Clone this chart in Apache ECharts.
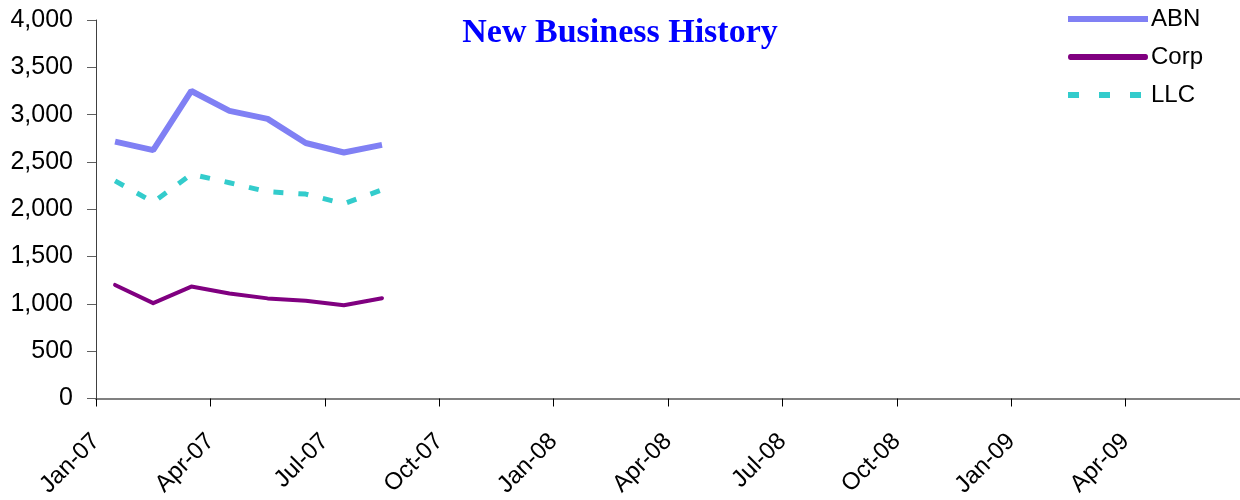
<!DOCTYPE html>
<html>
<head>
<meta charset="utf-8">
<script src="https://cdn.jsdelivr.net/npm/echarts@6/dist/echarts.min.js"></script>
<style>
html,body{margin:0;padding:0;background:#fff;}
#chart{width:1240px;height:500px;}
</style>
</head>
<body>
<div id="chart"></div>
<script>
// Monthly categories where data points sit (band centres)
const months = ['Jan-07','Feb-07','Mar-07','Apr-07','May-07','Jun-07','Jul-07','Aug-07','Sep-07','Oct-07','Nov-07','Dec-07',
  'Jan-08','Feb-08','Mar-08','Apr-08','May-08','Jun-08','Jul-08','Aug-08','Sep-08','Oct-08','Nov-08','Dec-08',
  'Jan-09','Feb-09','Mar-09','Apr-09','May-09','Jun-09'];
// Month boundaries used for the visible axis ticks/labels
const boundaries = ['Jan-07','Feb-07','Mar-07','Apr-07','May-07','Jun-07','Jul-07','Aug-07','Sep-07','Oct-07','Nov-07','Dec-07',
  'Jan-08','Feb-08','Mar-08','Apr-08','May-08','Jun-08','Jul-08','Aug-08','Sep-08','Oct-08','Nov-08','Dec-08',
  'Jan-09','Feb-09','Mar-09','Apr-09','May-09','Jun-09','Jul-09'];
const abn  = [2715, 2625, 3250, 3040, 2955, 2700, 2600, 2680];
const corp = [1200, 1008, 1183, 1110, 1058, 1032, 985, 1060];
const llc  = [2300, 2075, 2370, 2280, 2185, 2160, 2058, 2205];
const yTicks = [0, 500, 1000, 1500, 2000, 2500, 3000, 3500, 4000];

const chart = echarts.init(document.getElementById('chart'));
const showIdx = (i) => i % 3 === 0 && i < boundaries.length - 1;
chart.setOption({
  animation: false,
  backgroundColor: '#ffffff',
  title: {
    text: 'New Business History',
    left: 'center',
    top: 11,
    textStyle: {fontFamily: 'Liberation Serif', fontWeight: 'bold', fontSize: 34, color: '#0000FF'}
  },
  legend: {
    orient: 'vertical',
    left: 1068,
    top: 7,
    padding: 0,
    itemWidth: 80,
    itemHeight: 6,
    itemGap: 14,
    symbolKeepAspect: false,
    textStyle: {fontFamily: 'Liberation Sans', fontSize: 24, color: '#000', padding: [0, 0, 0, -2]},
    data: [
      {name: 'ABN', icon: 'path://M0,0H80V6H0Z'},
      {name: 'Corp', icon: 'path://M2.5,0.5H77.5A2.5,2.5,0,0,1,77.5,5.5H2.5A2.5,2.5,0,0,1,2.5,0.5Z'},
      {name: 'LLC', icon: 'path://M0,0H11V6H0Z M31,0H42V6H31Z M62,0H73V6H62Z M79.9,2.9H80V3H79.9Z'}
    ]
  },
  grid: {left: 96, right: 0, top: 20, bottom: 99, containLabel: false},
  xAxis: [
    {
      type: 'category',
      data: boundaries,
      boundaryGap: false,
      axisLine: {lineStyle: {color: '#808080', width: 2}},
      axisTick: {interval: (i) => showIdx(i), length: 8, lineStyle: {color: '#000', width: 1}},
      axisLabel: {
        interval: (i) => showIdx(i),
        rotate: 45,
        margin: 39,
        fontFamily: 'Liberation Sans',
        fontSize: 24,
        color: '#000'
      },
      splitLine: {show: false}
    },
    {
      type: 'category',
      data: months,
      boundaryGap: true,
      show: false
    }
  ],
  yAxis: {
    type: 'value',
    min: yTicks[0],
    max: yTicks[yTicks.length - 1],
    interval: 500,
    axisLine: {show: true, lineStyle: {color: '#404040', width: 1}},
    axisTick: {show: true, length: 9, lineStyle: {color: '#606060'}},
    axisLabel: {
      margin: 23,
      fontFamily: 'Liberation Sans',
      fontSize: 25,
      color: '#000',
      formatter: (v) => v.toLocaleString('en-US')
    },
    splitLine: {show: false}
  },
  series: [
    {
      name: 'ABN', type: 'line', xAxisIndex: 1, data: abn,
      symbol: 'none', color: '#8080F4',
      lineStyle: {color: '#8080F4', width: 6}
    },
    {
      name: 'Corp', type: 'line', xAxisIndex: 1, data: corp,
      symbol: 'none', color: '#800080',
      lineStyle: {color: '#800080', width: 4, cap: 'round', join: 'round'}
    },
    {
      name: 'LLC', type: 'line', xAxisIndex: 1, data: llc,
      symbol: 'none', color: '#33CCCC',
      lineStyle: {color: '#33CCCC', width: 5, type: [10, 15]}
    }
  ]
});
</script>
</body>
</html>
